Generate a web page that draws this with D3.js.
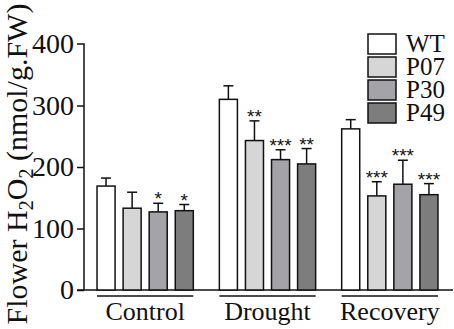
<!DOCTYPE html>
<html lang="en">
<head>
  <meta charset="UTF-8">
  <title>Flower H2O2</title>
  <style>
    body { margin: 0; background: #fff; }
    svg text { font-family: "Liberation Serif", "DejaVu Serif", serif; fill: #111; }
  </style>
</head>
<body>
  <svg width=454 height=329 id="viz"></svg>
  <script src="https://cdn.jsdelivr.net/npm/d3@7"></script>
  <script>
/* global d3 */

// data
let groups = ["Control", "Drought", "Recovery"];
let lines = ["WT", "P07", "P30", "P49"];
let means = {
  Control:  [169, 133, 127, 129],
  Drought:  [310, 243, 212, 205],
  Recovery: [262, 153, 172, 155]
};
let errs = {
  Control:  [13, 26, 14, 10],
  Drought:  [22, 32, 16, 25],
  Recovery: [15, 23, 39, 18]
};
let stars = {
  Control:  ["", "", "*", "*"],
  Drought:  ["", "**", "***", "**"],
  Recovery: ["", "***", "***", "***"]
};
let yTicks = [0, 100, 200, 300, 400];
let fills = ["#ffffff", "#d6d6d6", "#a3a3a8", "#7d7d7d"];

let serif = "'Liberation Serif', 'DejaVu Serif', serif";
let svg = d3.select("#viz");
let mLeft = 84, mRight = 451, mTop = 44, mBottom = 290;

let y = d3.scaleLinear().domain([0, 400]).range([mBottom, mTop]);
let x0 = d3.scaleBand().domain(groups).range([mLeft, mRight])
  .paddingInner(0.213).paddingOuter(0.1065);
let x1 = d3.scaleBand().domain(lines).range([0, x0.bandwidth()])
  .paddingInner(0.308);
let color = d3.scaleOrdinal().domain(lines).range(fills);

let rows = [];
groups.forEach(g => lines.forEach((l, i) => {
  rows.push({g: g, l: l, v: means[g][i], e: errs[g][i], s: stars[g][i]});
}));

// y axis
let yAxis = svg.append("g")
  .attr("transform", "translate(" + mLeft + ",0)")
  .call(d3.axisLeft(y).tickValues(yTicks).tickSize(7).tickPadding(3));
yAxis.attr("font-family", null).attr("font-size", null);
yAxis.select(".domain").attr("stroke", "#111").attr("stroke-width", 1.5)
  .attr("d", "M-7," + mTop + "H0V" + mBottom);
yAxis.selectAll(".tick line").attr("stroke", "#111").attr("stroke-width", 1.5);
yAxis.selectAll(".tick text")
  .style("font-family", serif).style("font-size", "28px").attr("fill", "#111");
yAxis.selectAll(".tick").filter(d => d === 400).select("line").remove();

// x baseline
svg.append("line")
  .attr("x1", mLeft - 7).attr("x2", mRight + 2)
  .attr("y1", y(0)).attr("y2", y(0))
  .attr("stroke", "#111").attr("stroke-width", 1.5);

let bx = d => x0(d.g) + x1(d.l);

// error bars (upper only)
let eb = svg.append("g").attr("stroke", "#111").attr("stroke-width", 1.5);
eb.selectAll(".stem").data(rows).enter().append("line")
  .attr("x1", d => bx(d) + x1.bandwidth() / 2)
  .attr("x2", d => bx(d) + x1.bandwidth() / 2)
  .attr("y1", d => y(d.v)).attr("y2", d => y(d.v + d.e));
eb.selectAll(".cap").data(rows).enter().append("line")
  .attr("x1", d => bx(d) + x1.bandwidth() / 2 - 5)
  .attr("x2", d => bx(d) + x1.bandwidth() / 2 + 5)
  .attr("y1", d => y(d.v + d.e)).attr("y2", d => y(d.v + d.e));

// bars
svg.append("g").selectAll("rect").data(rows).enter().append("rect")
  .attr("x", d => bx(d))
  .attr("y", d => y(d.v))
  .attr("width", x1.bandwidth())
  .attr("height", d => y(0) - y(d.v))
  .attr("fill", d => color(d.l))
  .attr("stroke", "#111").attr("stroke-width", 1.5);

// significance stars
svg.append("g").selectAll("text").data(rows.filter(d => d.s)).enter().append("text")
  .attr("x", d => bx(d) + x1.bandwidth() / 2)
  .attr("y", d => y(d.v + d.e) + 2)
  .attr("text-anchor", "middle")
  .style("font-family", "'Liberation Sans', Arial, sans-serif")
  .style("font-size", "19px")
  .text(d => d.s);

// group underlines and labels
let gl = svg.append("g");
gl.selectAll("line").data(groups).enter().append("line")
  .attr("x1", d => x0(d)).attr("x2", d => x0(d) + x0.bandwidth())
  .attr("y1", 296).attr("y2", 296)
  .attr("stroke", "#111").attr("stroke-width", 1.5);
gl.selectAll("text").data(groups).enter().append("text")
  .attr("x", d => x0(d) + x0.bandwidth() / 2)
  .attr("y", 320)
  .attr("text-anchor", "middle")
  .style("font-family", serif)
  .style("font-size", "26px")
  .text(d => d);

// legend
let lg = svg.append("g").attr("transform", "translate(368,34)");
let item = lg.selectAll("g").data(lines).enter().append("g")
  .attr("transform", (d, i) => "translate(0," + i * 23 + ")");
item.append("rect")
  .attr("width", 28).attr("height", 20)
  .attr("fill", d => color(d))
  .attr("stroke", "#111").attr("stroke-width", 1.5);
item.append("text")
  .attr("x", 38).attr("y", 18)
  .style("font-family", serif)
  .style("font-size", "25px")
  .text(d => d);

// y title
let t = svg.append("text")
  .attr("transform", "translate(27," + 164 + ") rotate(-90)")
  .attr("text-anchor", "middle")
  .style("font-family", serif)
  .style("font-size", "30px");
t.append("tspan").text("Flower H");
t.append("tspan").attr("dy", 6).style("font-size", "20px").text("2");
t.append("tspan").attr("dy", -6).text("O");
t.append("tspan").attr("dy", 6).style("font-size", "20px").text("2");
t.append("tspan").attr("dy", -6).text(" (nmol/g.FW)");
  </script>
</body>
</html>
